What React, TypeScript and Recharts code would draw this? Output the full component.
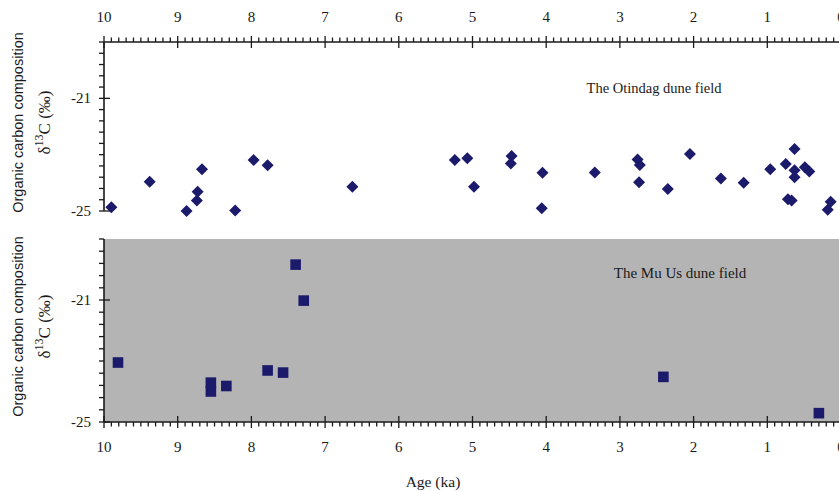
import { CartesianGrid, Scatter, ScatterChart, XAxis, YAxis } from 'recharts';

// tick lists
const ageTicks = Array.from({ length: 101 }, (_, i) => i / 10);
const ageLabels = [10, 9, 8, 7, 6, 5, 4, 3, 2, 1, 0];
const deltaTicks = Array.from({ length: 16 }, (_, i) => -25 + i * 0.4);
const deltaLabels = [-25, -21];

// The Otindag dune field (diamonds)
const otindagAge = [
  9.9, 9.38, 8.88, 8.74, 8.73, 8.67, 8.22, 7.97, 7.78, 6.63, 5.24, 5.07, 4.98, 4.47, 4.48, 4.05, 4.06, 3.34,
  2.76, 2.73, 2.74, 2.35, 2.05, 1.63, 1.32, 0.96, 0.75, 0.63, 0.63, 0.63, 0.49, 0.43, 0.72, 0.67, 0.14, 0.18,
];
const otindagD13C = [
  -24.87, -23.96, -25.0, -24.63, -24.32, -23.52, -24.98, -23.19, -23.38, -24.14, -23.19, -23.13, -24.14, -23.05,
  -23.31, -23.64, -24.9, -23.63, -23.17, -23.37, -23.98, -24.22, -22.98, -23.85, -24.0, -23.52, -23.33, -22.8,
  -23.55, -23.8, -23.45, -23.6, -24.58, -24.63, -24.67, -24.96,
];

// The Mu Us dune field (squares)
const muUsAge = [9.81, 8.55, 8.55, 8.34, 7.78, 7.57, 7.4, 7.29, 2.41, 0.3];
const muUsD13C = [-23.05, -23.71, -24.0, -23.82, -23.31, -23.38, -19.84, -21.02, -23.52, -24.71];

const otindag = otindagAge.map((age, i) => ({ age, d13c: otindagD13C[i] }));
const muUs = muUsAge.map((age, i) => ({ age, d13c: muUsD13C[i] }));

const NAVY = '#1b1a6b';
const INK = '#1a1a1a';
const SERIF = '"Liberation Serif", "Times New Roman", serif';
const SANS = '"Liberation Sans", Arial, sans-serif';

function isLabel(v: number, labels: number[]) {
  return labels.some((l) => Math.abs(l - v) < 1e-6);
}

function ageTick(side: 'top' | 'bottom') {
  return (props: any) => {
    const { x, y, payload } = props;
    const major = isLabel(payload.value, ageLabels);
    const dir = side === 'top' ? -1 : 1;
    return (
      <g>
        <line
          x1={x}
          x2={x}
          y1={major ? y - 6 * dir : y}
          y2={y + (major ? 6 : 4.5) * dir}
          stroke={INK}
          strokeWidth={1.3}
        />
        {major && (
          <text x={x} y={side === 'top' ? y - 20 : y + 30} textAnchor="middle" style={{ fontFamily: SERIF }} fontSize={15} fill={INK}>
            {Math.round(payload.value)}
          </text>
        )}
      </g>
    );
  };
}

function deltaTick(props: any) {
  const { x, y, payload } = props;
  const major = isLabel(payload.value, deltaLabels);
  return (
    <g>
      <line x1={x - 5} x2={major ? x + 6 : x} y1={y} y2={y} stroke={INK} strokeWidth={1.3} />
      {major && (
        <text x={x - 13} y={y + 5} textAnchor="end" style={{ fontFamily: SERIF }} fontSize={15} fill={INK}>
          {Math.round(payload.value)}
        </text>
      )}
    </g>
  );
}

function deltaTitle(props: any) {
  const { viewBox } = props;
  const cy = viewBox.y + viewBox.height / 2 - 4;
  return (
    <g fill={INK}>
      <text transform={`translate(23, ${cy}) rotate(-90)`} textAnchor="middle" style={{ fontFamily: SANS }} fontSize={14.5}>
        Organic carbon composition
      </text>
      <text transform={`translate(50, ${cy}) rotate(-90)`} textAnchor="middle" style={{ fontFamily: SERIF }} fontSize={17}>
        δ
        <tspan dy={-7} fontSize={12}>
          13
        </tspan>
        <tspan dy={7}>C (‰)</tspan>
      </text>
    </g>
  );
}

const diamond = (p: any) => (
  <path d={`M${p.cx},${p.cy - 6}L${p.cx + 6},${p.cy}L${p.cx},${p.cy + 6}L${p.cx - 6},${p.cy}Z`} fill={NAVY} />
);

const square = (p: any) => <rect x={p.cx - 5.3} y={p.cy - 5.3} width={10.6} height={10.6} fill={NAVY} />;

export default function App() {
  return (
    <div
      style={{
        position: 'fixed',
        left: 0,
        top: 0,
        width: 839,
        height: 491,
        overflow: 'hidden',
        background: '#fff',
      }}
    >
      <div style={{ position: 'absolute', left: 0, top: 0 }}>
        <ScatterChart width={845} height={230} margin={{ top: 12, right: 4, bottom: 19, left: 44 }}>
          <XAxis
            type="number"
            dataKey="age"
            orientation="top"
            reversed
            domain={[0, 10]}
            ticks={ageTicks}
            interval={0}
            height={30}
            tickSize={0}
            tickMargin={0}
            tickLine={false}
            tick={ageTick('top')}
            axisLine={{ stroke: INK, strokeWidth: 1.6 }}
            label={() => (
              <text x={654} y={93} textAnchor="middle" style={{ fontFamily: SERIF }} fontSize={14.5} fill={INK}>
                The Otindag dune field
              </text>
            )}
          />
          <YAxis
            type="number"
            dataKey="d13c"
            domain={[-25, -19]}
            ticks={deltaTicks}
            interval={0}
            width={60}
            tickSize={0}
            tickMargin={0}
            tickLine={false}
            tick={deltaTick}
            axisLine={{ stroke: INK, strokeWidth: 1.6 }}
            label={deltaTitle}
          />
          <Scatter data={otindag} shape={diamond} isAnimationActive={false} />
        </ScatterChart>
      </div>
      <div style={{ position: 'absolute', left: 0, top: 230 }}>
        <ScatterChart width={845} height={261} margin={{ top: 9, right: 4, bottom: 39, left: 44 }}>
          <CartesianGrid horizontal={false} vertical={false} fill="#b4b4b4" fillOpacity={1} />
          <XAxis
            type="number"
            dataKey="age"
            reversed
            domain={[0, 10]}
            ticks={ageTicks}
            interval={0}
            height={30}
            tickSize={0}
            tickMargin={0}
            tickLine={false}
            tick={ageTick('bottom')}
            axisLine={{ stroke: INK, strokeWidth: 1.6 }}
            label={() => (
              <g fill={INK}>
                <text x={680} y={48} textAnchor="middle" style={{ fontFamily: SERIF }} fontSize={15}>
                  The Mu Us dune field
                </text>
                <text x={433} y={257} textAnchor="middle" style={{ fontFamily: SERIF }} fontSize={15.5}>
                  Age (ka)
                </text>
              </g>
            )}
          />
          <YAxis
            type="number"
            dataKey="d13c"
            domain={[-25, -19]}
            ticks={deltaTicks}
            interval={0}
            width={60}
            tickSize={0}
            tickMargin={0}
            tickLine={false}
            tick={deltaTick}
            axisLine={{ stroke: INK, strokeWidth: 1.6 }}
            label={deltaTitle}
          />
          <Scatter data={muUs} shape={square} isAnimationActive={false} />
        </ScatterChart>
      </div>
    </div>
  );
}
